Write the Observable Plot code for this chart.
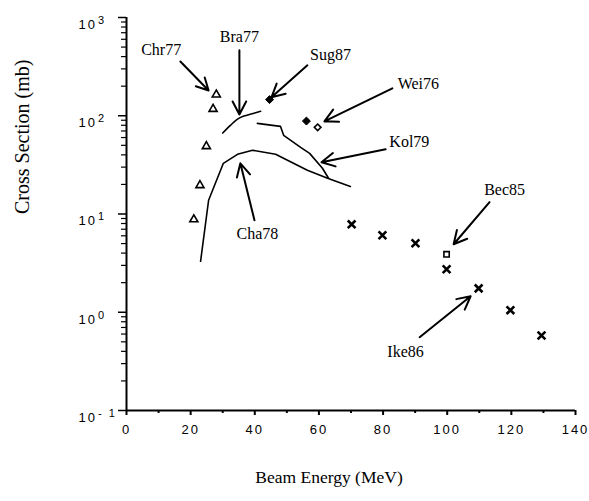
<!DOCTYPE html>
<html><head><meta charset="utf-8">
<script src="https://cdn.jsdelivr.net/npm/d3@7"></script>
<script src="https://cdn.jsdelivr.net/npm/@observablehq/plot@0.6"></script>
<style>body{margin:0;background:#fff}</style>
</head><body><div id="chart"></div>
<script>
// ---- data (Beam Energy MeV, Cross Section mb) ----
const chr77E = [21.0, 22.9, 24.9, 27.0, 28.0];
const chr77S = [8.8, 19.6, 48.9, 117, 164];
const sug87E = [44.6, 56.1];
const sug87S = [146, 88.3];
const wei76E = [59.6];
const wei76S = [76.2];
const bec85E = [99.8];
const bec85S = [3.89];
const ike86E = [70.2, 79.8, 90.1, 99.8, 109.8, 119.7, 129.4];
const ike86S = [7.85, 6.07, 5.03, 2.74, 1.75, 1.05, 0.58];
const bra77E = [30.0, 32.4, 34.5, 36.6, 39.2, 41.8];
const bra77S = [66.7, 79.8, 91.9, 99.3, 105, 111];
const kol79E = [40.8, 48.0, 49.0, 54.3, 57.1, 61.1, 63.0];
const kol79S = [83.7, 78, 63.2, 47.7, 41.4, 29.2, 23.1];
const cha78E = [23.1, 25.6, 30.2, 34.6, 39.3, 46.5, 50.2, 56.4, 62.7, 69.8];
const cha78S = [3.30, 13.8, 32.8, 40.5, 44.5, 40.5, 35.2, 27.9, 23.1, 19.1];

// annotations
const labelText = ["Chr77", "Bra77", "Sug87", "Wei76", "Kol79", "Cha78", "Bec85", "Ike86"];
const labelE    = [10.8, 35.2, 63.6, 91.0, 88.2, 40.8, 117.9, 87.0];
const labelS    = [470, 628, 412, 209, 53.6, 6.21, 17.4, 0.392];
const arrowFromE = [16.8, 35.2, 56.4, 82.9, 80.8, 39.9, 113.2, 91.4];
const arrowFromS = [357, 463, 326, 190, 45.5, 8.63, 13.2, 0.557];
const arrowToE   = [25.6, 35.2, 45.2, 61.7, 60.8, 35.5, 102.0, 107.3];
const arrowToS   = [181, 103, 154, 87.7, 33.6, 32.8, 4.92, 1.455];

// ticks
const xMajor = [0, 20, 40, 60, 80, 100, 120, 140];
const xMinor = [10, 30, 50, 70, 90, 110, 130];
const yMajor = [0.1, 1, 10, 100, 1000];
const yMinorMult = [2, 3, 4, 5, 6, 7, 8, 9];

const xLabel = "Beam Energy (MeV)";
const yLabel = "Cross Section (mb)";

// ---- build tables ----
const zip = (E, S) => E.map((e, i) => ({e, s: S[i]}));
const chr77 = zip(chr77E, chr77S), sug87 = zip(sug87E, sug87S), wei76 = zip(wei76E, wei76S);
const bec85 = zip(bec85E, bec85S), ike86 = zip(ike86E, ike86S);
const bra77 = zip(bra77E, bra77S), kol79 = zip(kol79E, kol79S), cha78 = zip(cha78E, cha78S);
const labels = labelText.map((t, i) => ({t, e: labelE[i], s: labelS[i]}));
const arrows = arrowFromE.map((e, i) => ({e1: e, s1: arrowFromS[i], e2: arrowToE[i], s2: arrowToS[i]}));
const yMinor = yMajor.slice(0, -1).flatMap(d => yMinorMult.map(m => d * m));

const serif = "Liberation Serif";
const sans = "Liberation Sans";

const chart = Plot.plot({
  width: 589, height: 501,
  marginLeft: 126, marginRight: 14, marginTop: 17, marginBottom: 91,
  style: {background: "#fff", color: "#000"},
  x: {domain: [0, 140]},
  y: {type: "log", domain: [0.1, 1000]},
  marks: [
    Plot.axisX(xMajor, {tickSize: 5, tickPadding: 9, strokeWidth: 2, fontSize: 13, fontFamily: sans, label: null, tickFormat: d => String(d)}),
    Plot.axisX(xMinor, {tickSize: 3, strokeWidth: 2, tickFormat: () => "", label: null}),
    Plot.axisY(yMajor, {tickSize: 8, tickPadding: 10, strokeWidth: 1.5, fontSize: 13, fontFamily: sans, label: null, tickFormat: d => String(Math.round(Math.log10(d)))}),
    Plot.axisY(yMinor, {tickSize: 5, strokeWidth: 1.2, tickFormat: () => "", label: null}),
    Plot.ruleX([0], {strokeWidth: 2}),
    Plot.ruleY([0.1], {strokeWidth: 2}),
    Plot.line(bra77, {x: "e", y: "s", strokeWidth: 1.6, curve: "catmull-rom"}),
    Plot.line(kol79, {x: "e", y: "s", strokeWidth: 1.6}),
    Plot.line(cha78, {x: "e", y: "s", strokeWidth: 1.6}),
    Plot.dot(chr77, {x: "e", y: "s", symbol: "triangle", r: 3, stroke: "#000", strokeWidth: 1.6, fill: "none"}),
    Plot.dot(sug87, {x: "e", y: "s", symbol: "diamond2", r: 3.6, fill: "#000", stroke: "#000", strokeWidth: 1}),
    Plot.dot(wei76, {x: "e", y: "s", symbol: "diamond2", r: 3, stroke: "#000", strokeWidth: 1.6, fill: "none"}),
    Plot.dot(bec85, {x: "e", y: "s", symbol: "square", r: 3, stroke: "#000", strokeWidth: 1.6, fill: "none"}),
    Plot.dot(ike86, {x: "e", y: "s", symbol: "times", r: 3.6, stroke: "#000", strokeWidth: 2.6}),
    Plot.arrow(arrows, {x1: "e1", y1: "s1", x2: "e2", y2: "s2", stroke: "#000", strokeWidth: 2, headLength: 11, headAngle: 55}),
    Plot.text(labels, {x: "e", y: "s", text: "t", fontFamily: serif, fontSize: 16, fill: "#000"}),
    Plot.text([xLabel], {frameAnchor: "bottom", dy: 72, dx: -22, text: d => d, fontFamily: serif, fontSize: 17.5, fill: "#000"}),
    Plot.text([yLabel], {frameAnchor: "left", dx: -104, rotate: -90, text: d => d, fontFamily: serif, fontSize: 20, fill: "#000"})
  ]
});

// superscript exponents on y tick labels, "10" left-aligned at a fixed position
d3.select(chart).selectAll('g[aria-label="y-axis tick label"] text').each(function () {
  const exp = this.textContent;
  if (exp === "") return;
  const t = d3.select(this);
  t.text("").attr("dy", "0.55em").attr("text-anchor", "start").style("letter-spacing", "2px");
  t.append("tspan").attr("dx", -30).text("10");
  t.append("tspan").attr("dx", 1).attr("dy", "-0.45em").attr("font-size", 11).text(exp === "-1" ? "- 1" : exp);
});
d3.select(chart).selectAll('g[aria-label="x-axis tick label"] text').style("letter-spacing", "2px");
document.getElementById("chart").append(chart);
</script>
</body></html>
